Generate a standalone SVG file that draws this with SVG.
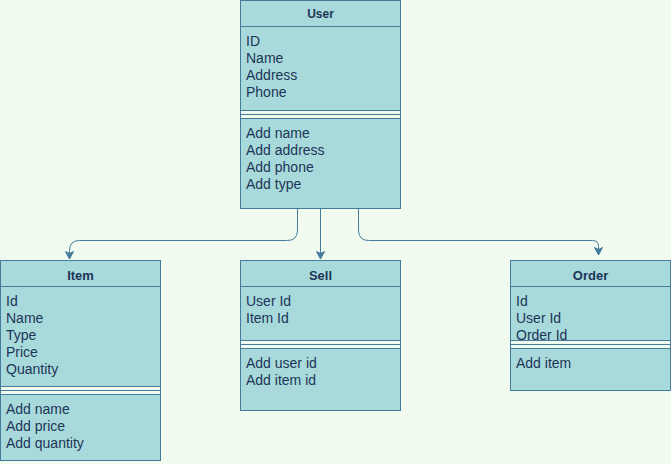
<svg xmlns="http://www.w3.org/2000/svg" width="671" height="464" viewBox="0 0 671 464">
<style>
.box{fill:#A8DADC;stroke:#457B9D;stroke-width:1}
.sep{fill:#F1FAEE;stroke:#457B9D;stroke-width:1}
.ln{stroke:#457B9D;stroke-width:1;fill:none}
.hd{font-family:"Liberation Sans",Arial,sans-serif;font-size:12px;font-weight:bold;fill:#1D3557;text-anchor:middle}
.hd13{font-size:13px}
.tx{font-family:"Liberation Sans",Arial,sans-serif;font-size:14px;fill:#1D3557}
.edge{stroke:#457B9D;stroke-width:1;fill:none}
</style>
<defs>
<marker id="arr" markerUnits="userSpaceOnUse" markerWidth="8" markerHeight="8" refX="7.5" refY="4" orient="auto" overflow="visible">
<path d="M0,0 L7.5,4 L0,8 L2,4 Z" fill="#457B9D" stroke="#457B9D" stroke-width="1" stroke-linejoin="miter"/>
</marker>
</defs>
<rect x="0" y="0" width="671" height="464" fill="#F1FAEE"/>

<g id="connectors">
<path class="edge" d="M297.5,208.5 L297.5,230 Q297.5,240.5 287.5,240.5 L79.5,240.5 Q69.5,240.5 69.5,250.5 L69.5,259" marker-end="url(#arr)"/>
<path class="edge" d="M320.5,208.5 L320.5,259" marker-end="url(#arr)"/>
<path class="edge" d="M358.5,208.5 L358.5,230 Q358.5,240.5 368.5,240.5 L592.5,240.5 Q598.5,240.5 598.5,246.5 L598.5,255" marker-end="url(#arr)"/>
</g>

<g id="user">
<rect class="box" x="240.5" y="0.5" width="160" height="208"/>
<line class="ln" x1="240.5" y1="26.5" x2="400.5" y2="26.5"/>
<rect class="sep" x="240.5" y="110.5" width="160" height="8"/>
<line class="ln" x1="240.5" y1="114.5" x2="400.5" y2="114.5"/>
<text class="hd" x="320.5" y="17.5">User</text>
<text class="tx" x="246" y="46">ID</text>
<text class="tx" x="246" y="63">Name</text>
<text class="tx" x="246" y="80">Address</text>
<text class="tx" x="246" y="97">Phone</text>
<text class="tx" x="246" y="137.5">Add name</text>
<text class="tx" x="246" y="154.5">Add address</text>
<text class="tx" x="246" y="171.5">Add phone</text>
<text class="tx" x="246" y="188.5">Add type</text>
</g>

<g id="item">
<rect class="box" x="0.5" y="260.5" width="160" height="200"/>
<line class="ln" x1="0.5" y1="286.5" x2="160.5" y2="286.5"/>
<rect class="sep" x="0.5" y="386.5" width="160" height="8"/>
<line class="ln" x1="0.5" y1="390.5" x2="160.5" y2="390.5"/>
<text class="hd hd13" x="80.5" y="279.5">Item</text>
<text class="tx" x="6" y="306">Id</text>
<text class="tx" x="6" y="323">Name</text>
<text class="tx" x="6" y="340">Type</text>
<text class="tx" x="6" y="357">Price</text>
<text class="tx" x="6" y="374">Quantity</text>
<text class="tx" x="6" y="414">Add name</text>
<text class="tx" x="6" y="431">Add price</text>
<text class="tx" x="6" y="448">Add quantity</text>
</g>

<g id="sell">
<rect class="box" x="240.5" y="260.5" width="160" height="150"/>
<line class="ln" x1="240.5" y1="286.5" x2="400.5" y2="286.5"/>
<rect class="sep" x="240.5" y="340.5" width="160" height="8"/>
<line class="ln" x1="240.5" y1="344.5" x2="400.5" y2="344.5"/>
<text class="hd hd13" x="320.5" y="279.5">Sell</text>
<text class="tx" x="246" y="306">User Id</text>
<text class="tx" x="246" y="323">Item Id</text>
<text class="tx" x="246" y="368">Add user id</text>
<text class="tx" x="246" y="385">Add item id</text>
</g>

<g id="order">
<rect class="box" x="510.5" y="260.5" width="160" height="130"/>
<line class="ln" x1="510.5" y1="286.5" x2="670.5" y2="286.5"/>
<text class="hd hd13" x="590.5" y="279.5">Order</text>
<text class="tx" x="516" y="306">Id</text>
<text class="tx" x="516" y="323">User Id</text>
<text class="tx" x="516" y="340">Order Id</text>
<rect class="sep" x="510.5" y="340.5" width="160" height="8"/>
<line class="ln" x1="510.5" y1="344.5" x2="670.5" y2="344.5"/>
<text class="tx" x="516" y="368">Add item</text>
</g>
</svg>
